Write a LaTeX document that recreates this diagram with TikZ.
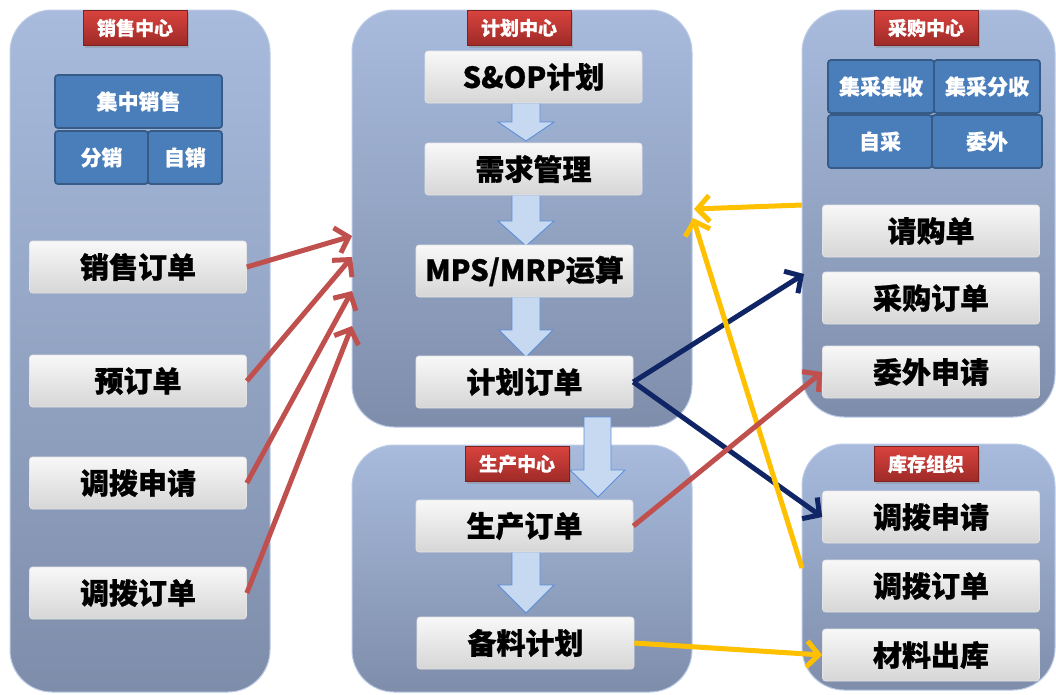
\documentclass[tikz,border=0pt]{standalone}
\usepackage{fontspec}
\setmainfont{Noto Sans CJK SC}
\usetikzlibrary{arrows.meta,shadows,calc}
\definecolor{paneltop}{HTML}{A8BBDD}
\definecolor{panelbot}{HTML}{7E8DAA}
\definecolor{panelline}{HTML}{BCCBE6}
\definecolor{boxtop}{HTML}{F8F8F8}
\definecolor{boxbot}{HTML}{D6D6D6}
\definecolor{boxline}{HTML}{E4E4E4}
\definecolor{tagtop}{HTML}{D8433E}
\definecolor{tagbot}{HTML}{9E2A27}
\definecolor{bluefill}{HTML}{4A7EBB}
\definecolor{blueline}{HTML}{375B87}
\definecolor{barfill}{HTML}{C6D9F1}
\definecolor{barline}{HTML}{5B8FDA}
\definecolor{conred}{HTML}{C0504D}
\definecolor{connavy}{HTML}{0F2565}
\definecolor{conyellow}{HTML}{FFC000}
\begin{document}
\begin{tikzpicture}[x=1pt,y=-1pt,
  panel/.style={draw=panelline, line width=1pt, rounded corners=42pt, top color=paneltop, bottom color=panelbot},
  graybox/.style={draw=boxline, line width=0.6pt, rounded corners=3pt, top color=boxtop, bottom color=boxbot,
    minimum width=217pt, minimum height=52pt, inner sep=0pt, text=black,
    font=\bfseries\fontsize{29}{32}\selectfont\addfontfeatures{FakeBold=0.8}},
  tagbox/.style={rectangle, top color=tagtop, bottom color=tagbot, draw=tagbot!80!black, line width=0.4pt,
    minimum width=104pt, minimum height=35pt, inner sep=0pt, text=white,
    font=\bfseries\fontsize{19}{21}\selectfont\addfontfeatures{FakeBold=0.5},
    drop shadow={shadow xshift=1.5pt, shadow yshift=-2pt, opacity=0.35}},
  bluebox/.style={draw=blueline, line width=1.8pt, fill=bluefill, rounded corners=3pt, inner sep=0pt, text=white,
    font=\bfseries\fontsize{21}{24}\selectfont\addfontfeatures{FakeBold=0.5}},
  blockarrow/.style={fill=barfill, draw=barline, line width=0.9pt, line join=miter},
  conn/.style={line width=5pt, -{Straight Barb[length=12pt,width=26pt,line width=5pt]}},
]
\useasboundingbox (0,0) rectangle (1056,694);
\fill[white] (0,0) rectangle (1056,694);

% panels
\path[panel] (10,10) rectangle (270,692);
\path[panel] (352,10) rectangle (692,427);
\path[panel] (352,445) rectangle (692,692);
\path[panel] (802,10) rectangle (1055,417);
\path[panel] (802,444) rectangle (1055,690);

% block arrows
\path[blockarrow] (512,103) -- (540,103) -- (540,122) -- (554,122) -- (526,141) -- (498,122) -- (512,122) -- cycle;
\path[blockarrow] (512,195) -- (540,195) -- (540,221) -- (554,221) -- (526,246) -- (498,221) -- (512,221) -- cycle;
\path[blockarrow] (512,297) -- (540,297) -- (540,330) -- (553,330) -- (526,357) -- (499,330) -- (512,330) -- cycle;
\path[blockarrow] (584,417) -- (611,417) -- (611,470) -- (625,470) -- (598,497) -- (570,470) -- (584,470) -- cycle;
\path[blockarrow] (512,552) -- (540,552) -- (540,585) -- (554,585) -- (526,613) -- (498,585) -- (512,585) -- cycle;

% tags
\node[tagbox] (tsale) at (135,28) {销售中心};
\node[tagbox] (tplan) at (519,28) {计划中心};
\node[tagbox] (tbuy) at (926,28) {采购中心};
\node[tagbox] (tprod) at (517,464) {生产中心};
\node[tagbox] (tstock) at (926,464) {库存组织};

% blue boxes
\node[bluebox, minimum width=167pt, minimum height=53pt] (jzxs) at (138.5,101.5) {集中销售};
\node[bluebox, minimum width=93pt, minimum height=53pt] (fx) at (101.5,157.5) {分销};
\node[bluebox, minimum width=74pt, minimum height=53pt] (zx) at (185,157.5) {自销};
\node[bluebox, minimum width=106pt, minimum height=53pt] (jcjs) at (881,86.5) {集采集收};
\node[bluebox, minimum width=106pt, minimum height=53pt] (jcfs) at (987,86.5) {集采分收};
\node[bluebox, minimum width=104pt, minimum height=53pt] (zc) at (880,141.5) {自采};
\node[bluebox, minimum width=110pt, minimum height=53pt] (ww) at (987,141.5) {委外};

% gray boxes left
\node[graybox] (xsdd) at (138,267) {销售订单};
\node[graybox] (ydd) at (138,381) {预订单};
\node[graybox] (dbsq1) at (138,483) {调拨申请};
\node[graybox] (dbdd1) at (138,593) {调拨订单};
% middle
\node[graybox] (sop) at (533.5,77) {S\&OP计划};
\node[graybox] (xqgl) at (533.5,169) {需求管理};
\node[graybox] (mps) at (524.5,271) {MPS/MRP运算};
\node[graybox] (jhdd) at (524.5,382) {计划订单};
\node[graybox] (scdd) at (524.5,526) {生产订单};
\node[graybox] (bljh) at (525.5,643) {备料计划};
% right
\node[graybox] (qgd) at (931,231) {请购单};
\node[graybox] (cgdd) at (931,298) {采购订单};
\node[graybox] (wwsq) at (931,372) {委外申请};
\node[graybox] (dbsq2) at (931,517) {调拨申请};
\node[graybox] (dbdd2) at (931,586) {调拨订单};
\node[graybox] (clck) at (931,655) {材料出库};

% connector free ends
\coordinate (pin1) at (352,236);
\coordinate (pin2) at (352,257);
\coordinate (pin3) at (352,291);
\coordinate (pin4) at (352,326);
\coordinate (buyin) at (804,274);
\coordinate (buyout) at (802,205);
\coordinate (planin1) at (694,209);
\coordinate (planin2) at (693,218);
\coordinate (stockout) at (802,568);

% navy
\draw[conn, connavy] (jhdd.east) -- (buyin);
\draw[conn, connavy] (jhdd.east) -- (dbsq2.west);
% yellow
\draw[conn, conyellow] (buyout) -- (planin1);
\draw[conn, conyellow] (stockout) -- (planin2);
\draw[conn, conyellow] (bljh.east) -- (clck.west);
% red
\draw[conn, conred] (xsdd.east) -- (pin1);
\draw[conn, conred] (ydd.east) -- (pin2);
\draw[conn, conred] (dbsq1.east) -- (pin3);
\draw[conn, conred] (dbdd1.east) -- (pin4);
\draw[conn, conred] (scdd.east) -- (wwsq.west);
\end{tikzpicture}
\end{document}
